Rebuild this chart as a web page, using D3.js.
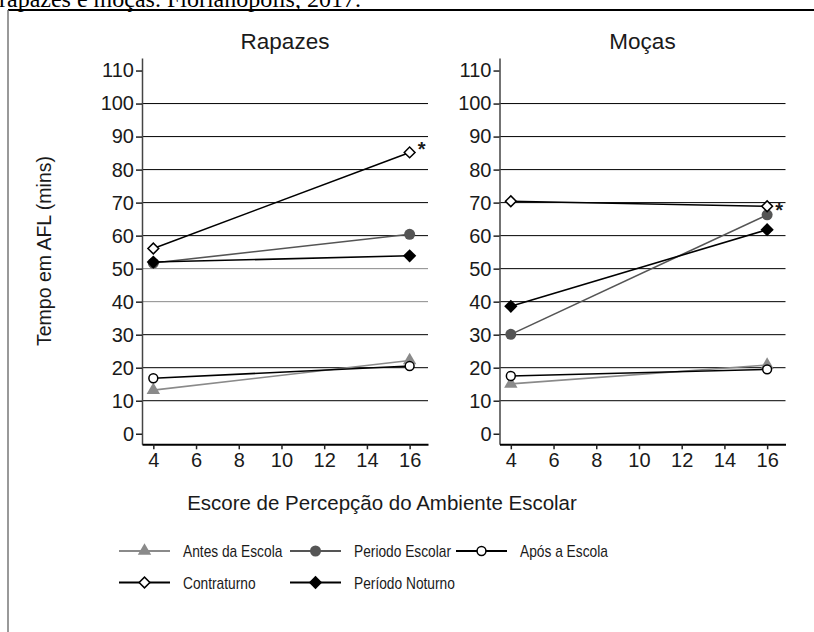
<!DOCTYPE html>
<meta charset="utf-8">
<style>
body { margin: 0; background: #fff; }
svg text { font-family: "Liberation Sans", Arial, sans-serif; fill: #1a1a1a; }
.grid line { stroke: #000; stroke-width: 1; }
.axis text { font-size: 20px; }
.axis line { stroke: #222; stroke-width: 1.5; }
.legend text { font-size: 16px; }
</style>
<body>
<script src="https://d3js.org/d3.v7.min.js"></script>
<script>
// series and values
var seriesNames = ["Antes da Escola", "Periodo Escolar", "Após a Escola", "Contraturno", "Período Noturno"];
var xValues = [4, 16];
var panelTitles = ["Rapazes", "Moças"];
// one pair (score 4, score 16) per series
var rapazesValues = [[13.2, 22.2], [51.7, 60.4], [16.8, 20.5], [56.1, 85.2], [52.0, 53.9]];
var mocasValues = [[15.1, 20.8], [30.1, 66.3], [17.5, 19.5], [70.4, 68.9], [38.6, 61.8]];
var yTicks = [0, 10, 20, 30, 40, 50, 60, 70, 80, 90, 100, 110];
var xTicks = [4, 6, 8, 10, 12, 14, 16];
var gridValues = [10, 20, 30, 40, 50, 60, 70, 80, 90, 100];

// look of each series
var styles = [
  {color: "#8a8a8a", symbol: d3.symbolTriangle, size: 78, fill: true, rot: 0},
  {color: "#555555", symbol: d3.symbolCircle, size: 95, fill: true, rot: 0},
  {color: "#000", symbol: d3.symbolCircle, size: 62, fill: false, rot: 0},
  {color: "#000", symbol: d3.symbolSquare, size: 58, fill: false, rot: 45},
  {color: "#000", symbol: d3.symbolSquare, size: 88, fill: true, rot: 45}
];

var width = 814, height = 632;
var svg = d3.select("body").append("svg")
    .attr("width", width)
    .attr("height", height);

// caption cut off at the top of the page
svg.append("text")
    .attr("x", -1)
    .attr("y", 7)
    .style("font-family", "'Liberation Serif', 'Times New Roman', serif")
    .style("font-size", "24px")
    .style("fill", "#000")
    .text("rapazes e moças. Florianópolis, 2017.");

// frame of the figure
svg.append("line").attr("x1", 8).attr("x2", width).attr("y1", 10).attr("y2", 10)
    .attr("stroke", "#000").attr("stroke-width", 2);
svg.append("line").attr("x1", 8).attr("x2", 8).attr("y1", 10).attr("y2", height)
    .attr("stroke", "#777").attr("stroke-width", 1.5);

var y = d3.scaleLinear().domain([-3.2, 113.8]).range([444.3, 58]);

var panels = [
  {title: panelTitles[0], values: rapazesValues, range: [142, 428], grey: [40, 50], star: -6},
  {title: panelTitles[1], values: mocasValues, range: [499.5, 785.5], grey: [], star: 1}
];

panels.forEach(function(p) {
  var x = d3.scaleLinear().domain([3.47, 16.86]).range(p.range);
  var g = svg.append("g");

  g.append("g").attr("class", "grid")
    .selectAll("line").data(gridValues).enter().append("line")
      .attr("x1", p.range[0]).attr("x2", p.range[1])
      .attr("y1", function(d) { return y(d); })
      .attr("y2", function(d) { return y(d); })
      .style("stroke", function(d) { return p.grey.indexOf(d) >= 0 ? "#8a8a8a" : "#000"; });

  var ya = g.append("g").attr("class", "axis")
      .attr("transform", "translate(" + p.range[0] + ",0)")
      .call(d3.axisLeft(y).tickValues(yTicks).tickSize(6).tickSizeOuter(0).tickPadding(2));
  ya.select(".domain").attr("stroke", "#444").attr("stroke-width", 1.5);

  var xa = g.append("g").attr("class", "axis")
      .attr("transform", "translate(0," + y.range()[0] + ")")
      .call(d3.axisBottom(x).tickValues(xTicks).tickSize(5).tickSizeOuter(0).tickPadding(4));
  xa.select(".domain").attr("stroke", "#000").attr("stroke-width", 2);

  g.append("text")
    .attr("x", (p.range[0] + p.range[1]) / 2)
    .attr("y", 49)
    .attr("text-anchor", "middle")
    .style("font-size", "22.5px")
    .text(p.title);

  var line = d3.line()
    .x(function(d, i) { return x(xValues[i]); })
    .y(function(d) { return y(d); });

  p.values.forEach(function(vals, si) {
    var st = styles[si];
    g.append("path")
      .datum(vals)
      .attr("d", line)
      .attr("fill", "none")
      .attr("stroke", st.color)
      .attr("stroke-width", 1.6);
    g.selectAll(".m" + si).data(vals).enter().append("path")
      .attr("class", "m" + si)
      .attr("d", d3.symbol(st.symbol).size(st.size))
      .attr("transform", function(d, i) {
        return "translate(" + x(xValues[i]) + "," + y(d) + ") rotate(" + st.rot + ")";
      })
      .attr("fill", st.fill ? st.color : "#fff")
      .attr("stroke", st.color)
      .attr("stroke-width", st.fill ? 0 : 1.5);
  });

  // significance mark next to Contraturno at score 16
  g.append("text")
    .attr("x", x(xValues[1]) + 12)
    .attr("y", y(p.values[3][1]) + p.star + 10)
    .attr("text-anchor", "middle")
    .style("font-size", "20px")
    .style("font-weight", "bold")
    .text("*");
});

// axis titles
svg.append("text")
    .attr("transform", "translate(51,251) rotate(-90)")
    .attr("text-anchor", "middle")
    .style("font-size", "19.5px")
    .text("Tempo em AFL (mins)");

svg.append("text")
    .attr("x", 382)
    .attr("y", 510)
    .attr("text-anchor", "middle")
    .style("font-size", "20.5px")
    .text("Escore de Percepção do Ambiente Escolar");

// legend, two rows
var legendCols = [119, 290, 456];
var legendRows = [551, 582.5];
var squeeze = 0.86;
var legend = svg.append("g").attr("class", "legend");
seriesNames.forEach(function(name, i) {
  var st = styles[i];
  var lx = legendCols[i % 3], ly = legendRows[Math.floor(i / 3)];
  var item = legend.append("g").attr("transform", "translate(" + lx + "," + ly + ")");
  item.append("line").attr("x1", 0).attr("x2", 51).attr("y1", 0).attr("y2", 0)
    .attr("stroke", st.color).attr("stroke-width", 2);
  item.append("path")
    .attr("d", d3.symbol(st.symbol).size(st.size))
    .attr("transform", "translate(25.5,0) rotate(" + st.rot + ")")
    .attr("fill", st.fill ? st.color : "#fff")
    .attr("stroke", st.color)
    .attr("stroke-width", st.fill ? 0 : 1.5);
  item.append("text")
    .attr("transform", "translate(64,6) scale(" + squeeze + ",1)")
    .text(name);
});
</script>
</body>
